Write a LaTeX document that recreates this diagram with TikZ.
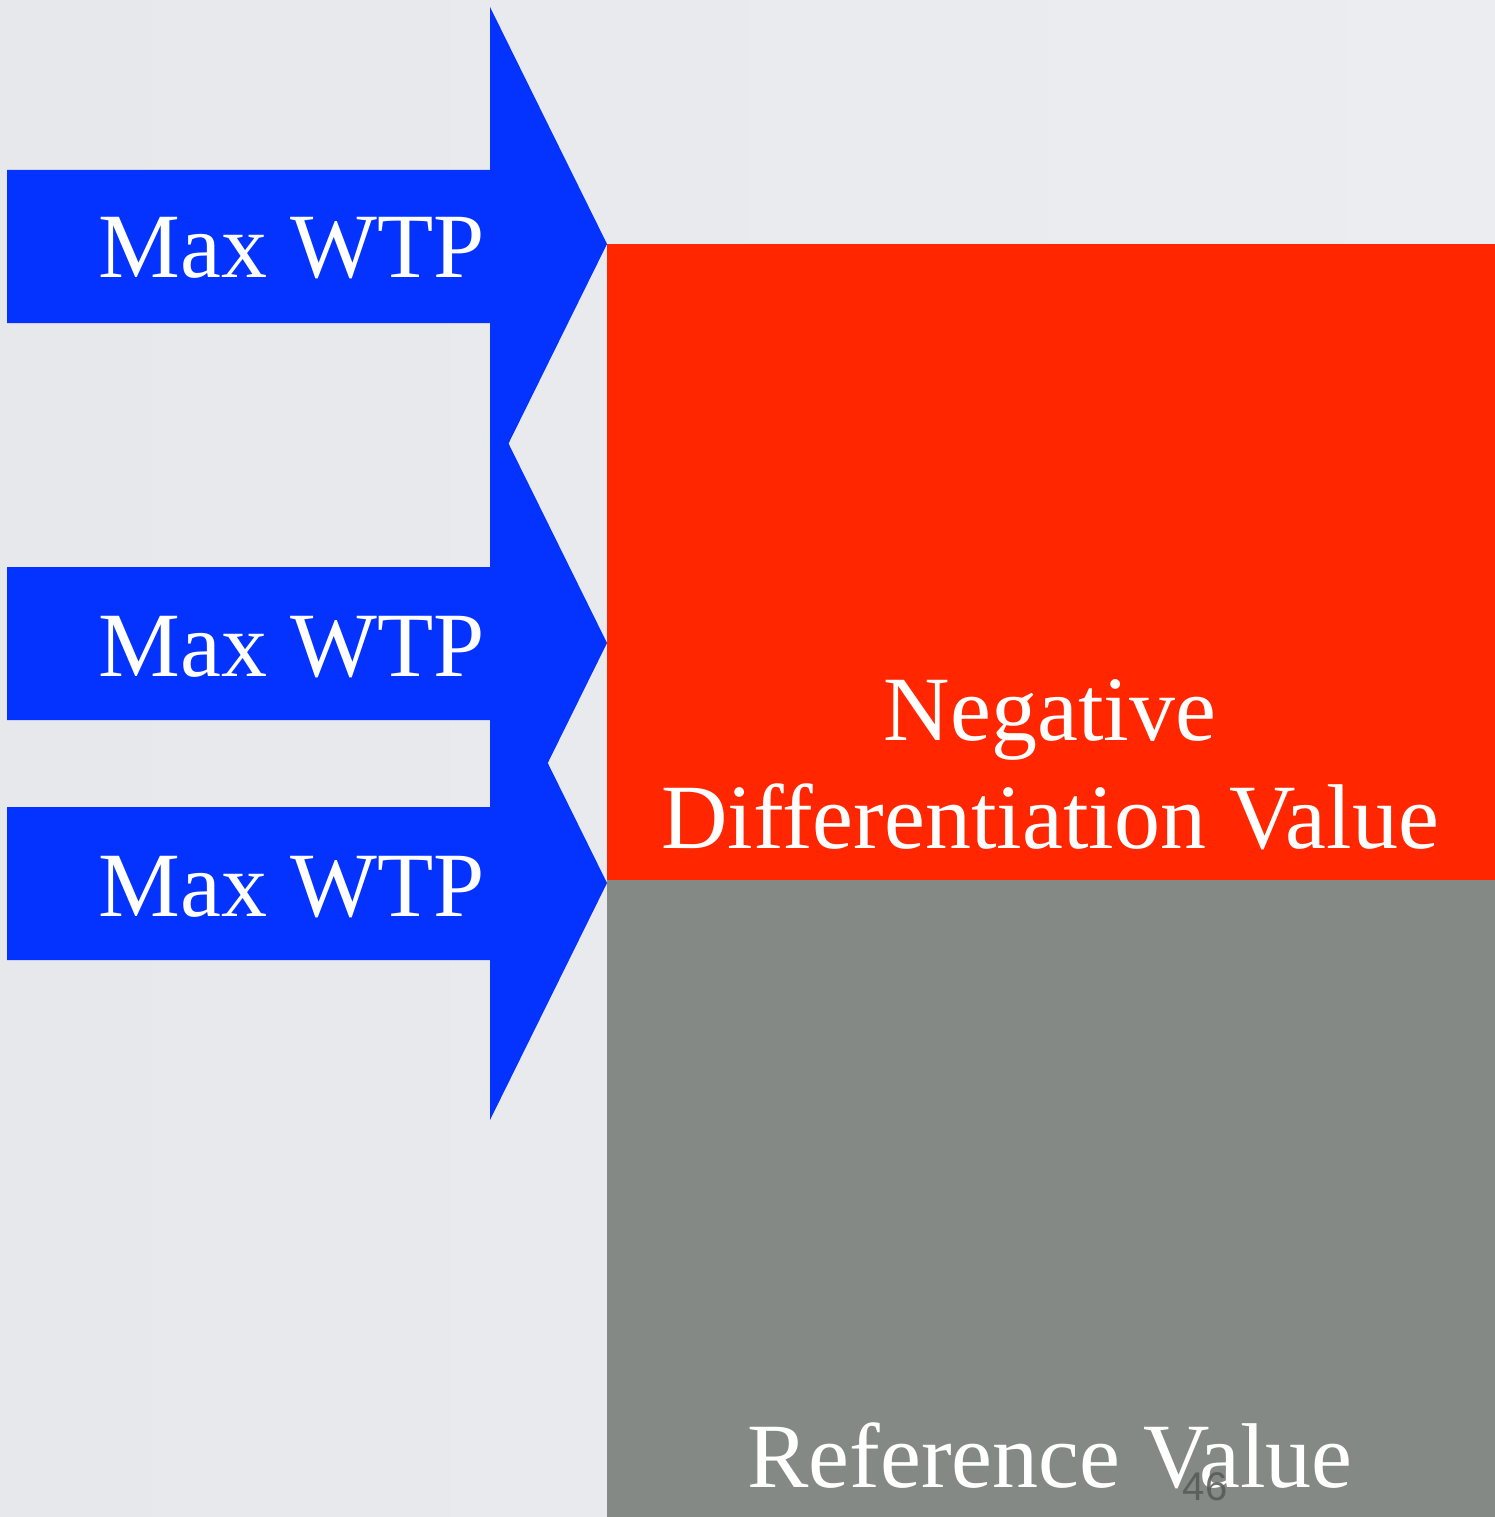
\documentclass[tikz,border=0pt]{standalone}
\usepackage{fontspec}
\setmainfont{Liberation Serif}
\newfontfamily\pagenumfont{Liberation Sans}
\definecolor{bgcol}{HTML}{E6E8EC}
\definecolor{bglight}{HTML}{ECEDF0}
\definecolor{arrowblue}{HTML}{0433FF}
\definecolor{negred}{HTML}{FF2600}
\definecolor{refgray}{HTML}{848985}
\definecolor{numgray}{HTML}{555957}
\begin{document}
\begin{tikzpicture}[x=1pt,y=-1pt,
  bigtext/.style={text=white,inner sep=0pt,font=\fontsize{92}{110}\selectfont},
  arrowshape/.style={fill=arrowblue,draw=none}]
\useasboundingbox (0,0) rectangle (1495,1517);
\shade[left color=bgcol, right color=bglight] (0,0) rectangle (1495,1517);
% blocks
\fill[negred] (607,244) rectangle (1495,881);
\fill[refgray] (607,880) rectangle (1495,1517);
% arrows
\fill[arrowshape] (7,170) -- (490,170) -- (490,7) -- (607,244) -- (490,481) -- (490,323) -- (7,323) -- cycle;
\fill[arrowshape] (7,567) -- (490,567) -- (490,406) -- (607,643) -- (490,880) -- (490,720) -- (7,720) -- cycle;
\fill[arrowshape] (7,807) -- (490,807) -- (490,646) -- (607,883) -- (490,1120) -- (490,960) -- (7,960) -- cycle;
% labels
\node[bigtext,anchor=base east] (wtp1) at (485,277) {Max WTP};
\node[bigtext,anchor=base east] (wtp2) at (485,676) {Max WTP};
\node[bigtext,anchor=base east] (wtp3) at (485,916) {Max WTP};
\node[bigtext,anchor=base] (neg1) at (1050,740) {Negative};
\node[bigtext,anchor=base] (neg2) at (1050,848) {Differentiation Value};
\node[bigtext,anchor=base] (ref) at (1050,1487) {Reference Value};
\node[anchor=base,inner sep=0pt,text=numgray,text opacity=0.85,font=\pagenumfont\fontsize{40}{48}\selectfont] (pnum) at (1205,1500) {46};
\end{tikzpicture}
\end{document}
